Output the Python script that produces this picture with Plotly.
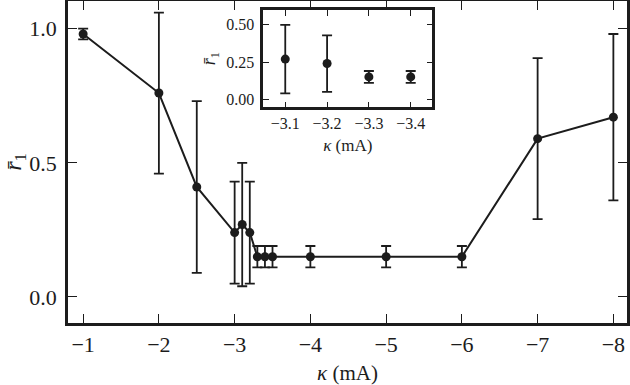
import plotly.graph_objects as go

# ---- data ----
kappa = [-1, -2, -2.5, -3.0, -3.1, -3.2, -3.3, -3.4, -3.5, -4, -5, -6, -7, -8]
r1 = [0.98, 0.76, 0.41, 0.24, 0.27, 0.24, 0.15, 0.15, 0.15, 0.15, 0.15, 0.15, 0.59, 0.67]
r1_err = [0.02, 0.30, 0.32, 0.19, 0.23, 0.19, 0.04, 0.04, 0.04, 0.04, 0.04, 0.04, 0.30, 0.31]

inset_kappa = [-3.1, -3.2, -3.3, -3.4]
inset_r1 = [0.27, 0.24, 0.15, 0.15]
inset_err = [0.23, 0.19, 0.04, 0.04]

main_xticks = [-1, -2, -3, -4, -5, -6, -7, -8]
main_xticklabels = ["\u22121", "\u22122", "\u22123", "\u22124", "\u22125", "\u22126", "\u22127", "\u22128"]
main_yticks = [0.0, 0.5, 1.0]
main_yticklabels = ["0.0", "0.5", "1.0"]
inset_xticks = [-3.1, -3.2, -3.3, -3.4]
inset_xticklabels = ["\u22123.1", "\u22123.2", "\u22123.3", "\u22123.4"]
inset_yticks = [0.0, 0.25, 0.5]
inset_yticklabels = ["0.00", "0.25", "0.50"]

INK = "#1c1c1c"
FONT = "Liberation Serif"
ylab = "<i>r\u0304</i><sub>1</sub>"
xlab = "<i>\u03ba</i> (mA)"

fig = go.Figure()
fig.add_trace(go.Scatter(
    x=kappa, y=r1, mode="lines+markers",
    line=dict(color=INK, width=2),
    marker=dict(color=INK, size=9),
    error_y=dict(type="data", array=r1_err, visible=True, color=INK, thickness=1.8, width=5),
    xaxis="x", yaxis="y", showlegend=False,
))
fig.add_trace(go.Scatter(
    x=inset_kappa, y=inset_r1, mode="markers",
    marker=dict(color=INK, size=9),
    error_y=dict(type="data", array=inset_err, visible=True, color=INK, thickness=1.8, width=5),
    xaxis="x2", yaxis="y2", showlegend=False,
))

axis_common = dict(
    showline=True, linecolor=INK, linewidth=2.5, mirror="ticks",
    ticks="inside", tickcolor=INK, tickwidth=1.2,
    showgrid=False, zeroline=False, automargin=False,
)

fig.update_layout(
    width=630, height=385,
    margin=dict(l=68, r=3, t=1, b=62),
    paper_bgcolor="white", plot_bgcolor="white",
    font=dict(family=FONT, color=INK, size=22),
    xaxis=dict(
        **axis_common, domain=[0, 1], range=[-0.8, -8.18],
        tickvals=main_xticks, ticktext=main_xticklabels, ticklen=9,
        tickfont=dict(size=22), ticklabelstandoff=0,
        title=dict(text=xlab, font=dict(size=21), standoff=12),
    ),
    yaxis=dict(
        **axis_common, domain=[0, 1], range=[-0.097, 1.103],
        tickvals=main_yticks, ticktext=main_yticklabels, ticklen=9,
        tickfont=dict(size=22), ticklabelstandoff=4,
        title=dict(text=ylab, font=dict(size=24), standoff=8),
    ),
    xaxis2=dict(
        **axis_common, domain=[0.349, 0.652], range=[-3.047, -3.452], anchor="y2",
        tickvals=inset_xticks, ticktext=inset_xticklabels, ticklen=6,
        tickfont=dict(size=16), ticklabelstandoff=0,
        title=dict(text=xlab, font=dict(size=17), standoff=8),
    ),
    yaxis2=dict(
        **axis_common, domain=[0.670, 0.972], range=[-0.054, 0.60], anchor="x2",
        tickvals=inset_yticks, ticktext=inset_yticklabels, ticklen=6,
        tickfont=dict(size=16), ticklabelstandoff=3,
        title=dict(text=ylab, font=dict(size=18), standoff=6),
    ),
)

fig.write_html(
    "out.html",
    config={"displayModeBar": False},
    post_script="document.body.style.margin='0px';document.body.style.overflow='hidden';",
)
